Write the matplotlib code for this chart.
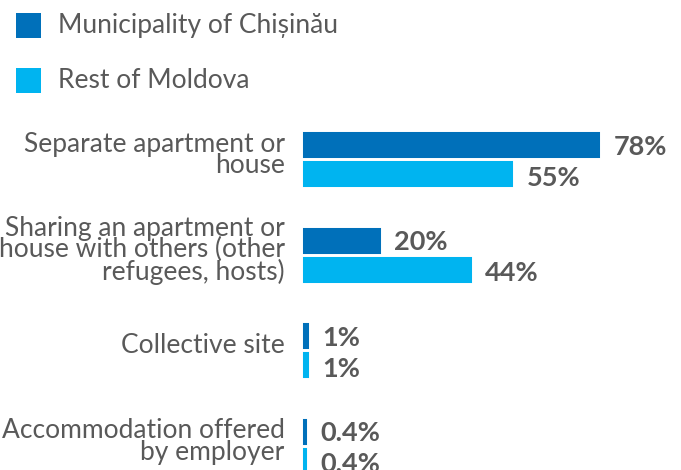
import matplotlib
matplotlib.use("Agg")
import matplotlib.pyplot as plt
from matplotlib.patches import Rectangle
import numpy as np

categories = [
    "Separate apartment or\nhouse",
    "Sharing an apartment or\nhouse with others (other\nrefugees, hosts)",
    "Collective site",
    "Accommodation offered\nby employer",
]
series_names = ["Municipality of Chișinău", "Rest of Moldova"]
chisinau = [78, 20, 1, 0.4]
rest = [55, 44, 1, 0.4]
chisinau_labels = ["78%", "20%", "1%", "0.4%"]
rest_labels = ["55%", "44%", "1%", "0.4%"]

DARK = "#0070BA"
LIGHT = "#00B4F0"
GRAY = "#595959"
FONT = ["Lato", "DejaVu Sans"]
plt.rcParams["font.family"] = FONT

W, H = 681, 470
fig = plt.figure(figsize=(W / 100, H / 100), dpi=100)

# axes placement in pixels
x0 = 303.5
px_per_unit_x = 3.78
group_px = 95.5
center0 = 159.0
ax = fig.add_axes([x0 / W, 0, 1 - x0 / W, 1])
ax.set_xlim(0, (W - x0) / px_per_unit_x)
top = -center0 / group_px
bottom = (H - center0) / group_px
ax.set_ylim(bottom, top)
ax.axis("off")

y = np.arange(len(categories))
off = 14.5 / group_px
h = 23 / group_px
edge = 2.2

ax.barh(y - off, chisinau, height=h, color=DARK, edgecolor=DARK, linewidth=edge, clip_on=False)
ax.barh(y + off, rest, height=h, color=LIGHT, edgecolor=LIGHT, linewidth=edge, clip_on=False)

VAL_FS = 19.5
for yi, v, lab in zip(y - off, chisinau, chisinau_labels):
    ax.annotate(lab, (v, yi), xytext=(11, -1.5), textcoords="offset points",
                ha="left", va="center", fontsize=VAL_FS, fontweight="bold",
                color=GRAY, annotation_clip=False)
for yi, v, lab in zip(y + off, rest, rest_labels):
    ax.annotate(lab, (v, yi), xytext=(11, -3), textcoords="offset points",
                ha="left", va="center", fontsize=VAL_FS, fontweight="bold",
                color=GRAY, annotation_clip=False)

for yi, cat in zip(y, categories):
    ax.annotate(cat, (0, yi), xytext=(-13.5, 3), textcoords="offset points",
                ha="right", va="center", multialignment="right",
                fontsize=19, color=GRAY, linespacing=0.83,
                annotation_clip=False)

# legend
for i, (name, col) in enumerate(zip(series_names, [DARK, LIGHT])):
    ytop = 13 + 55 * i
    fig.add_artist(Rectangle((16 / W, 1 - (ytop + 25) / H), 25 / W, 25 / H,
                             transform=fig.transFigure, color=col, lw=0))
    fig.text(58 / W, 1 - (ytop + 12.5) / H, name, ha="left", va="center",
             fontsize=19, color=GRAY)

fig.savefig("out.png", dpi=100)
